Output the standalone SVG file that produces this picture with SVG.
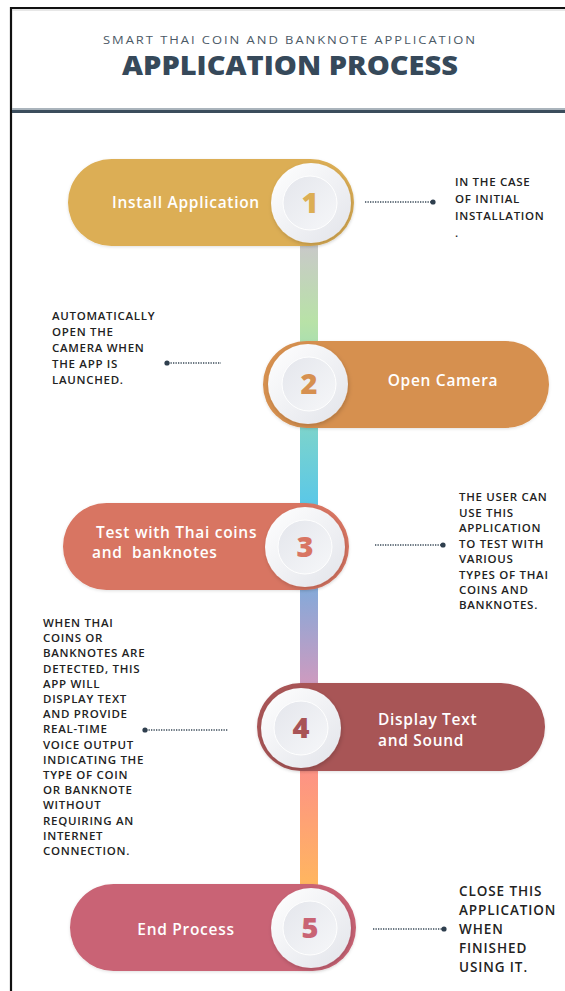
<svg xmlns="http://www.w3.org/2000/svg" width="565" height="991" viewBox="0 0 565 991">
<defs>
<linearGradient id="bar" x1="0" y1="245" x2="0" y2="885" gradientUnits="userSpaceOnUse">
<stop offset="0" stop-color="#c9c9c9"/>
<stop offset="0.12" stop-color="#b8e2a7"/>
<stop offset="0.3" stop-color="#78d2cf"/>
<stop offset="0.4" stop-color="#5cc8e6"/>
<stop offset="0.55" stop-color="#8ba8d7"/>
<stop offset="0.68" stop-color="#cb9bc0"/>
<stop offset="0.8" stop-color="#fd8e8a"/>
<stop offset="1" stop-color="#ffb65f"/>
</linearGradient>
<linearGradient id="outer" x1="0" y1="0" x2="1" y2="1">
<stop offset="0" stop-color="#ffffff"/>
<stop offset="1" stop-color="#e2e4ea"/>
</linearGradient>
<linearGradient id="inner" x1="0" y1="0" x2="1" y2="1">
<stop offset="0" stop-color="#e4e6ec"/>
<stop offset="1" stop-color="#f6f7f9"/>
</linearGradient>
<filter id="sh" x="-30%" y="-30%" width="160%" height="160%">
<feDropShadow dx="1" dy="2" stdDeviation="2" flood-color="#000" flood-opacity="0.18"/>
</filter>
<filter id="psh" x="-10%" y="-20%" width="120%" height="140%">
<feDropShadow dx="0" dy="1" stdDeviation="1.5" flood-color="#000" flood-opacity="0.12"/>
</filter>
</defs>
<style>
.sub{font-family:"Open Sans","Liberation Sans",sans-serif;font-size:10.5px;fill:#4b5966;letter-spacing:1.6px}
.title{font-family:"Open Sans","Liberation Sans",sans-serif;font-size:27px;font-weight:800;fill:#36495a}
.lbl{font-family:"Open Sans","Liberation Sans",sans-serif;font-size:15.5px;font-weight:600;fill:#ffffff;letter-spacing:0.7px}
.num{font-family:"Open Sans","Liberation Sans",sans-serif;font-size:29px;font-weight:800;text-anchor:middle}
.note{font-family:"Open Sans","Liberation Sans",sans-serif;font-size:11.5px;font-weight:600;fill:#222222;letter-spacing:0.7px}
.note5{font-family:"Open Sans","Liberation Sans",sans-serif;font-size:13.5px;font-weight:600;fill:#222222;letter-spacing:0.9px}
.dots{stroke:#3a4a58;stroke-width:1.3;stroke-dasharray:1.3 1.2;fill:none}
.dot{fill:#2f3f4e}
.oc{fill:url(#outer);filter:url(#sh)}
.ic{fill:url(#inner);stroke:#ffffff;stroke-width:1}
</style>
<rect x="0" y="0" width="565" height="991" fill="#ffffff"/>
<g id="frame">
<line x1="11" y1="8" x2="565" y2="8" stroke="#111" stroke-width="2.2"/>
<line x1="11" y1="7" x2="11" y2="991" stroke="#111" stroke-width="2.2"/>
<line x1="12" y1="10" x2="565" y2="10" stroke="#cfcfcf" stroke-width="1"/>
<rect x="12" y="108" width="553" height="2" fill="#aab4bc"/>
<rect x="12" y="110" width="553" height="3" fill="#3b4d5c"/>
</g>
<g id="header">
<text class="sub" x="103" y="44" textLength="374" lengthAdjust="spacingAndGlyphs">SMART THAI COIN AND BANKNOTE APPLICATION</text>
<text class="title" x="122" y="75" textLength="336" lengthAdjust="spacingAndGlyphs">APPLICATION PROCESS</text>
</g>
<g id="connectors">
<rect x="300" y="240" width="18" height="650" fill="url(#bar)"/>
<line class="dots" x1="365" y1="202" x2="432" y2="202"/><circle class="dot" cx="433" cy="202" r="2.6"/>
<line class="dots" x1="168" y1="363" x2="221" y2="363"/><circle class="dot" cx="167" cy="363" r="2.6"/>
<line class="dots" x1="375" y1="545" x2="442" y2="545"/><circle class="dot" cx="443" cy="545" r="2.6"/>
<line class="dots" x1="146" y1="730" x2="228" y2="730"/><circle class="dot" cx="145" cy="730" r="2.6"/>
<line class="dots" x1="373" y1="929" x2="443" y2="929"/><circle class="dot" cx="444" cy="929" r="2.6"/>
</g>
<g id="step1">
<rect x="68" y="159" width="286" height="87" rx="43.5" fill="#dcae54" filter="url(#psh)"/>
<circle class="oc" cx="311" cy="203" r="40"/>
<circle class="ic" cx="310" cy="203" r="27"/>
<text class="num" x="310" y="213" fill="#dcae54">1</text>
<text class="lbl" x="186" y="208" text-anchor="middle">Install Application</text>
</g>
<g id="note1">
<text class="note" x="455" y="186">IN THE CASE</text>
<text class="note" x="455" y="203">OF INITIAL</text>
<text class="note" x="455" y="220">INSTALLATION</text>
<text class="note" x="455" y="237">.</text>
</g>
<g id="step2">
<rect x="263" y="341" width="286" height="87" rx="43.5" fill="#d69050" filter="url(#psh)"/>
<circle class="oc" cx="308" cy="384" r="40"/>
<circle class="ic" cx="309" cy="384" r="27"/>
<text class="num" x="309" y="394" fill="#d69050">2</text>
<text class="lbl" x="443" y="386" text-anchor="middle">Open Camera</text>
</g>
<g id="note2">
<text class="note" x="52" y="320">AUTOMATICALLY</text>
<text class="note" x="52" y="336">OPEN THE</text>
<text class="note" x="52" y="352">CAMERA WHEN</text>
<text class="note" x="52" y="368">THE APP IS</text>
<text class="note" x="52" y="384">LAUNCHED.</text>
</g>
<g id="step3">
<rect x="63" y="503" width="286" height="87" rx="43.5" fill="#d87562" filter="url(#psh)"/>
<circle class="oc" cx="305" cy="547" r="40"/>
<circle class="ic" cx="305" cy="547" r="27"/>
<text class="num" x="305" y="557" fill="#d87562">3</text>
<text class="lbl" x="96" y="538">Test with Thai coins</text>
<text class="lbl" x="92" y="558" xml:space="preserve">and  banknotes</text>
</g>
<g id="note3">
<text class="note" x="459" y="501">THE USER CAN</text>
<text class="note" x="459" y="517">USE THIS</text>
<text class="note" x="459" y="532">APPLICATION</text>
<text class="note" x="459" y="548">TO TEST WITH</text>
<text class="note" x="459" y="563">VARIOUS</text>
<text class="note" x="459" y="579">TYPES OF THAI</text>
<text class="note" x="459" y="594">COINS AND</text>
<text class="note" x="459" y="609">BANKNOTES.</text>
</g>
<g id="step4">
<rect x="257" y="683" width="288" height="88" rx="44" fill="#a85456" filter="url(#psh)"/>
<circle class="oc" cx="301" cy="728" r="40"/>
<circle class="ic" cx="301" cy="728" r="27"/>
<text class="num" x="301" y="738" fill="#a85456">4</text>
<text class="lbl" x="378" y="725">Display Text</text>
<text class="lbl" x="378" y="746">and Sound</text>
</g>
<g id="note4">
<text class="note" x="43" y="627">WHEN THAI</text>
<text class="note" x="43" y="642">COINS OR</text>
<text class="note" x="43" y="657">BANKNOTES ARE</text>
<text class="note" x="43" y="673">DETECTED, THIS</text>
<text class="note" x="43" y="688">APP WILL</text>
<text class="note" x="43" y="703">DISPLAY TEXT</text>
<text class="note" x="43" y="718">AND PROVIDE</text>
<text class="note" x="43" y="733">REAL-TIME</text>
<text class="note" x="43" y="749">VOICE OUTPUT</text>
<text class="note" x="43" y="764">INDICATING THE</text>
<text class="note" x="43" y="779">TYPE OF COIN</text>
<text class="note" x="43" y="794">OR BANKNOTE</text>
<text class="note" x="43" y="809">WITHOUT</text>
<text class="note" x="43" y="825">REQUIRING AN</text>
<text class="note" x="43" y="840">INTERNET</text>
<text class="note" x="43" y="855">CONNECTION.</text>
</g>
<g id="step5">
<rect x="70" y="884" width="286" height="87" rx="43.5" fill="#c96474" filter="url(#psh)"/>
<circle class="oc" cx="311" cy="928" r="40"/>
<circle class="ic" cx="310" cy="928" r="27"/>
<text class="num" x="310" y="938" fill="#c96474">5</text>
<text class="lbl" x="186" y="935" text-anchor="middle">End Process</text>
</g>
<g id="note5">
<text class="note5" x="459" y="896">CLOSE THIS</text>
<text class="note5" x="459" y="915">APPLICATION</text>
<text class="note5" x="459" y="934">WHEN</text>
<text class="note5" x="459" y="953">FINISHED</text>
<text class="note5" x="459" y="972">USING IT.</text>
</g>
</svg>
